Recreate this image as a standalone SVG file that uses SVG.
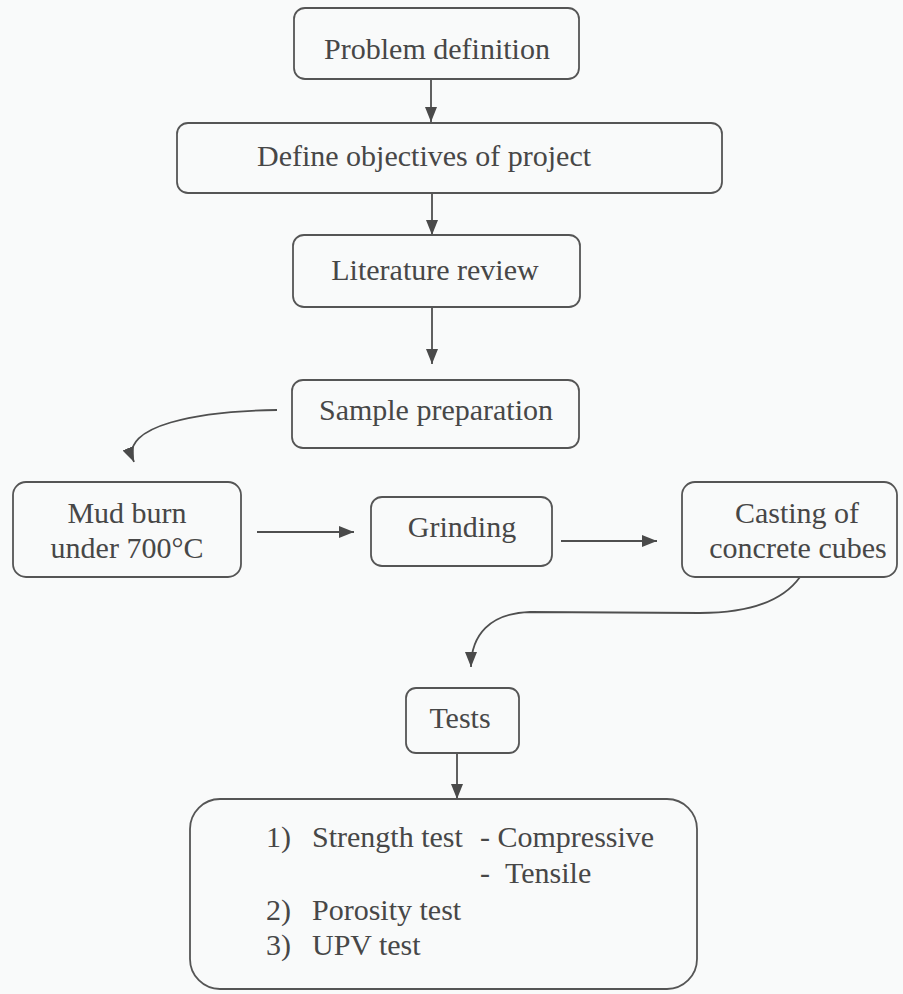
<svg xmlns="http://www.w3.org/2000/svg" width="903" height="994" viewBox="0 0 903 994">
  <style>
    .box { fill: #f9fafa; stroke: #555; stroke-width: 1.8; }
    .t { font-family: 'Liberation Serif', 'DejaVu Serif', 'Noto Serif', serif; font-size: 30px; fill: #474747; }
    .c { text-anchor: middle; }
    .edge { fill: none; stroke: #4f4f4f; stroke-width: 1.8; }
  </style>
  <defs>
    <marker id="arr" markerUnits="userSpaceOnUse" markerWidth="16" markerHeight="14" refX="15" refY="6" orient="auto">
      <path d="M0,0 L15,6 L0,12 Z" fill="#4a4a4a"/>
    </marker>
  </defs>
  <rect x="0" y="0" width="903" height="994" fill="#f9fafa"/>

  <g id="connectors">
    <line class="edge" x1="431" y1="79" x2="431" y2="122" marker-end="url(#arr)"/>
    <line class="edge" x1="432" y1="193" x2="432" y2="235" marker-end="url(#arr)"/>
    <line class="edge" x1="432" y1="307" x2="432" y2="364" marker-end="url(#arr)"/>
    <path class="edge" d="M277,410 C200,411 118,425 134,462" marker-end="url(#arr)"/>
    <line class="edge" x1="257" y1="532" x2="354" y2="532" marker-end="url(#arr)"/>
    <line class="edge" x1="561" y1="541" x2="657" y2="541" marker-end="url(#arr)"/>
    <path class="edge" d="M800,577 C780,605 740,613 700,613 L530,612 C490,613 471,635 471,667" marker-end="url(#arr)"/>
    <line class="edge" x1="457" y1="753" x2="457" y2="799" marker-end="url(#arr)"/>
  </g>

  <g id="problem">
    <rect class="box" x="294" y="8" width="285" height="71" rx="11"/>
    <text class="t c" x="437" y="59">Problem definition</text>
  </g>
  <g id="objectives">
    <rect class="box" x="177" y="123" width="545" height="70" rx="11"/>
    <text class="t" x="257" y="166">Define objectives of project</text>
  </g>
  <g id="literature">
    <rect class="box" x="293" y="235" width="287" height="72" rx="11"/>
    <text class="t c" x="435" y="280">Literature review</text>
  </g>
  <g id="sample">
    <rect class="box" x="292" y="380" width="287" height="68" rx="11"/>
    <text class="t c" x="436" y="420">Sample preparation</text>
  </g>
  <g id="mudburn">
    <rect class="box" x="13" y="482" width="228" height="95" rx="13"/>
    <text class="t c" x="127" y="523">Mud burn</text>
    <text class="t c" x="127" y="558">under 700°C</text>
  </g>
  <g id="grinding">
    <rect class="box" x="371" y="497" width="181" height="69" rx="11"/>
    <text class="t c" x="462" y="537">Grinding</text>
  </g>
  <g id="casting">
    <rect class="box" x="682" y="482" width="215" height="95" rx="13"/>
    <text class="t c" x="797" y="523">Casting of</text>
    <text class="t c" x="798" y="558">concrete cubes</text>
  </g>
  <g id="tests">
    <rect class="box" x="406" y="688" width="113" height="65" rx="10"/>
    <text class="t c" x="460" y="728">Tests</text>
  </g>
  <g id="results">
    <rect class="box" x="190" y="799" width="507" height="190" rx="30"/>
    <text class="t" x="266" y="847">1)</text>
    <text class="t" x="312" y="847">Strength test</text>
    <text class="t" x="480" y="847">- Compressive</text>
    <text class="t" x="480" y="883">-</text>
    <text class="t" x="505" y="883">Tensile</text>
    <text class="t" x="266" y="920">2)</text>
    <text class="t" x="312" y="920">Porosity test</text>
    <text class="t" x="266" y="955">3)</text>
    <text class="t" x="312" y="955">UPV test</text>
  </g>
</svg>
